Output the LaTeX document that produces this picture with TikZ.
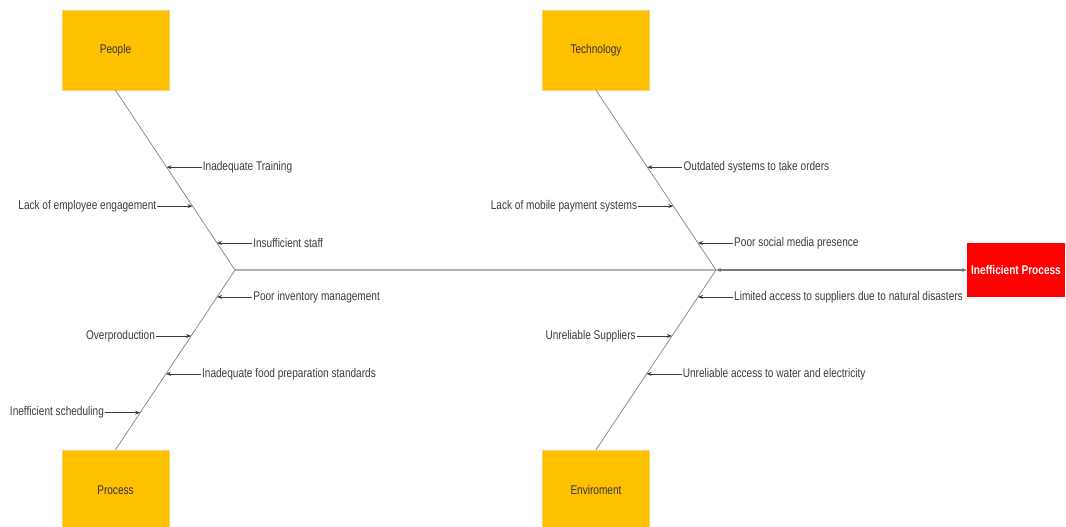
\documentclass[tikz,border=0pt]{standalone}
\usepackage{fontspec}
\setmainfont{Liberation Sans}[FakeStretch=0.80]
\usepackage{tikz}
\usetikzlibrary{arrows.meta, positioning, calc}
\definecolor{catfill}{HTML}{FFC000}
\definecolor{catline}{HTML}{F2D27A}
\definecolor{effectred}{HTML}{FF0000}
\definecolor{ink}{HTML}{3C3C3C}
\tikzset{
  cat/.style={rectangle, draw=catline, line width=0.6pt, fill=catfill, minimum width=107pt, minimum height=80pt, font=\fontsize{12.6}{14}\selectfont, text=ink!90!black},
  effect/.style={rectangle, fill=effectred, minimum width=98pt, minimum height=54pt, font=\fontsize{12.6}{14}\selectfont\bfseries, text=white},
  cause/.style={inner sep=1pt, font=\fontsize{12.6}{14}\selectfont, text=ink},
  bone/.style={line width=0.8pt, gray!90},
  spine/.style={line width=1.2pt, gray!60},
  mainarr/.style={{Stealth[length=5pt,width=4pt]}-{Stealth[length=5pt,width=4pt]}, line width=1.2pt, gray!95!black},
  arr/.style={-{Stealth[length=5pt,width=4pt]}, line width=0.7pt, ink},
}
\begin{document}
\begin{tikzpicture}[x=1pt, y=-1pt, node distance=35pt]
\useasboundingbox (0,0) rectangle (1066,527);
\node[cat] (people) at (115.5,50) {People};
\node[cat] (tech) at (596,50) {Technology};
\node[cat] (process) at (115.5,490) {Process};
\node[cat] (envir) at (596,490) {Enviroment};
\node[effect] (eff) at (1016,270) {Inefficient Process};
\coordinate (jl) at (235,270);
\coordinate (jr) at (716,270);

\draw[spine] (jl) -- (jr);
\draw[mainarr] (jr) -- (eff.west);
\draw[bone] (people.south) -- (jl) -- (process.north);
\draw[bone] (tech.south) -- (jr) -- (envir.north);

% people
\coordinate (pe1) at ($(jl)!0.572!(people.south)$);
\coordinate (pe2) at ($(jl)!0.356!(people.south)$);
\coordinate (pe3) at ($(jl)!0.15!(people.south)$);
\node[cause, right=of pe1] (train) {Inadequate Training};
\node[cause, left=of pe2] (engage) {Lack of employee engagement};
\node[cause, right=of pe3] (staff) {Insufficient staff};
\draw[arr] (train) -- (pe1); \draw[arr] (engage) -- (pe2); \draw[arr] (staff) -- (pe3);

% process
\coordinate (pr1) at ($(jl)!0.15!(process.north)$);
\coordinate (pr2) at ($(jl)!0.367!(process.north)$);
\coordinate (pr3) at ($(jl)!0.578!(process.north)$);
\coordinate (pr4) at ($(jl)!0.794!(process.north)$);
\node[cause, right=of pr1] (invent) {Poor inventory management};
\node[cause, left=of pr2] (overprod) {Overproduction};
\node[cause, right=of pr3] (food) {Inadequate food preparation standards};
\node[cause, left=of pr4] (sched) {Inefficient scheduling};
\draw[arr] (invent) -- (pr1); \draw[arr] (overprod) -- (pr2); \draw[arr] (food) -- (pr3); \draw[arr] (sched) -- (pr4);

% technology
\coordinate (te1) at ($(jr)!0.572!(tech.south)$);
\coordinate (te2) at ($(jr)!0.356!(tech.south)$);
\coordinate (te3) at ($(jr)!0.15!(tech.south)$);
\node[cause, right=of te1] (orders) {Outdated systems to take orders};
\node[cause, left=of te2] (mobile) {Lack of mobile payment systems};
\node[cause, right=of te3] (social) {Poor social media presence};
\draw[arr] (orders) -- (te1); \draw[arr] (mobile) -- (te2); \draw[arr] (social) -- (te3);

% enviroment
\coordinate (en1) at ($(jr)!0.15!(envir.north)$);
\coordinate (en2) at ($(jr)!0.367!(envir.north)$);
\coordinate (en3) at ($(jr)!0.578!(envir.north)$);
\node[cause, right=of en1] (disast) {Limited access to suppliers due to natural disasters};
\node[cause, left=of en2] (suppl) {Unreliable Suppliers};
\node[cause, right=of en3] (water) {Unreliable access to water and electricity};
\draw[arr] (disast) -- (en1); \draw[arr] (suppl) -- (en2); \draw[arr] (water) -- (en3);
\end{tikzpicture}
\end{document}
